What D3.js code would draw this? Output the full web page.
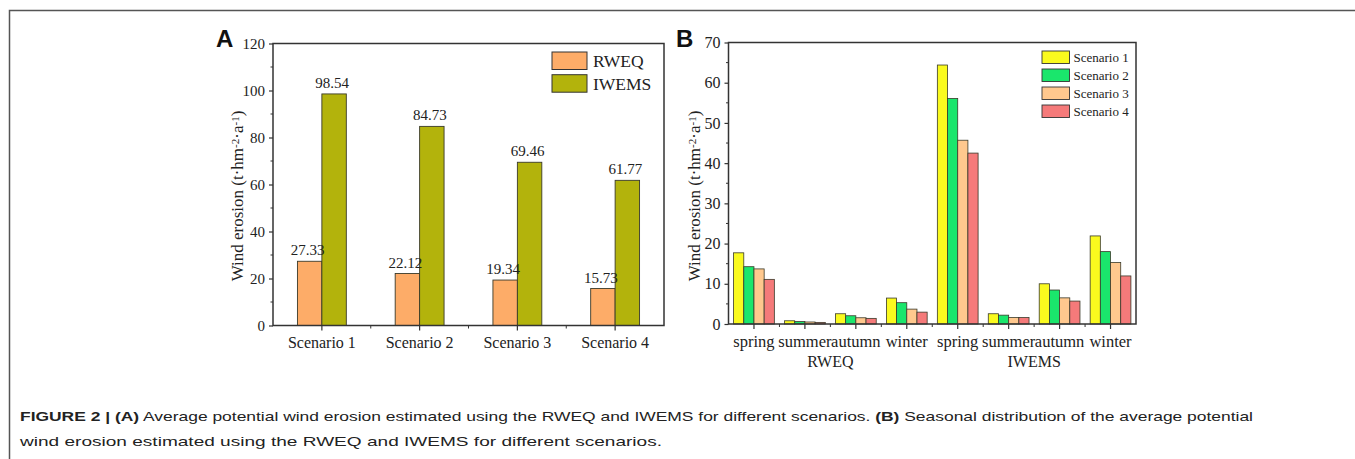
<!DOCTYPE html>
<html>
<head>
<meta charset="utf-8">
<script src="https://cdn.jsdelivr.net/npm/d3@7"></script>
<style>
  body { margin: 0; background: #fff; }
  svg { display: block; }
</style>
</head>
<body>
<div id="fig"></div>
<script>
// panel A data
const scenarios = ['Scenario 1', 'Scenario 2', 'Scenario 3', 'Scenario 4'];
const models = ['RWEQ', 'IWEMS'];
const rweqTotals = [27.33, 22.12, 19.34, 15.73];
const iwemsTotals = [98.54, 84.73, 69.46, 61.77];
const ticksA = [0, 20, 40, 60, 80, 100, 120];

// panel B data: RWEQ spring..winter, then IWEMS spring..winter
const seasons = ['spring', 'summer', 'autumn', 'winter'];
const scenario1 = [17.7, 0.8, 2.55, 6.45, 64.4, 2.55, 10.0, 21.9];
const scenario2 = [14.25, 0.6, 2.05, 5.3, 56.1, 2.2, 8.45, 18.0];
const scenario3 = [13.7, 0.5, 1.55, 3.7, 45.7, 1.6, 6.5, 15.3];
const scenario4 = [11.1, 0.4, 1.4, 2.95, 42.5, 1.6, 5.7, 11.95];
const ticksB = [0, 10, 20, 30, 40, 50, 60, 70];

const SERIF = '"Liberation Serif", "Times New Roman", serif';
const SANS = '"Liberation Sans", Arial, Helvetica, sans-serif';

const svg = d3.select('#fig')
    .append('svg')
    .attr('width', 1355)
    .attr('height', 459);

// outer figure border
svg.append('rect')
    .attr('x', 9.5).attr('y', 10.5)
    .attr('width', 1350).attr('height', 470)
    .attr('fill', 'none')
    .attr('stroke', '#555')
    .attr('stroke-width', 1.5);

function yTitle(g, x, y) {
    const t = g.append('text')
        .attr('transform', `translate(${x}, ${y}) rotate(-90)`)
        .attr('text-anchor', 'middle')
        .style('font-family', SERIF)
        .style('font-size', '17px')
        .attr('fill', '#222');
    t.append('tspan').text('Wind erosion (t·hm');
    t.append('tspan').attr('baseline-shift', '40%').style('font-size', '11px').text('-2');
    t.append('tspan').text('·a');
    t.append('tspan').attr('baseline-shift', '40%').style('font-size', '11px').text('-1');
    t.append('tspan').text(')');
}

function frameAndYAxis(yScale, ticks, box, labelSize) {
    const g = svg.append('g');
    const yAxis = d3.axisLeft(yScale)
        .tickValues(ticks)
        .tickSize(4)
        .tickPadding(4);
    g.append('g')
        .attr('transform', `translate(${box.left}, 0)`)
        .call(yAxis)
        .call(s => s.select('.domain').remove())
        .call(s => s.selectAll('line').attr('stroke', '#333').attr('stroke-width', 1.2))
        .call(s => s.selectAll('text')
            .style('font-family', SERIF)
            .style('font-size', labelSize)
            .attr('fill', '#222'));

    // minor ticks half way between the majors
    const minors = d3.pairs(ticks).map(p => (p[0] + p[1]) / 2);
    g.append('g')
        .selectAll('line')
        .data(minors)
        .enter()
        .append('line')
        .attr('x1', box.left - 2.5)
        .attr('x2', box.left)
        .attr('y1', d => yScale(d))
        .attr('y2', d => yScale(d))
        .attr('stroke', '#333')
        .attr('stroke-width', 1);

    return g;
}

function drawFrame(box) {
    svg.append('rect')
        .attr('x', box.left).attr('y', box.top)
        .attr('width', box.right - box.left)
        .attr('height', box.bottom - box.top)
        .attr('fill', 'none')
        .attr('stroke', '#333')
        .attr('stroke-width', 1.5);
}

// ---------- panel A ----------
const boxA = { left: 273, right: 664, top: 43.5, bottom: 325.5 };
const colorA = { RWEQ: '#fdac68', IWEMS: '#b3b30c' };

const xA = d3.scaleBand()
    .domain(scenarios)
    .range([boxA.left, boxA.right])
    .paddingInner(0.5)
    .paddingOuter(0.25);

const xAInner = d3.scaleBand()
    .domain(models)
    .range([0, xA.bandwidth()]);

const yA = d3.scaleLinear()
    .domain([0, 120])
    .range([boxA.bottom, boxA.top]);

const tableA = scenarios.map((s, i) => ({ name: s, RWEQ: rweqTotals[i], IWEMS: iwemsTotals[i] }));

const chartA = svg.append('g').classed('panel-a', true);

const groupsA = chartA.selectAll('.grp')
    .data(tableA)
    .enter()
    .append('g')
    .classed('grp', true)
    .attr('transform', d => `translate(${xA(d.name)}, 0)`);

groupsA.selectAll('rect')
    .data(d => models.map(m => ({ model: m, value: d[m] })))
    .enter()
    .append('rect')
    .attr('x', d => xAInner(d.model))
    .attr('y', d => yA(d.value))
    .attr('width', xAInner.bandwidth())
    .attr('height', d => yA(0) - yA(d.value))
    .attr('fill', d => colorA[d.model])
    .attr('stroke', '#3a3a2a')
    .attr('stroke-width', 0.9);

groupsA.selectAll('.val')
    .data(d => models.map(m => ({ model: m, value: d[m] })))
    .enter()
    .append('text')
    .classed('val', true)
    .attr('x', d => xAInner(d.model) + xAInner.bandwidth() / 2 - 2)
    .attr('y', d => yA(d.value) - 6)
    .attr('text-anchor', 'middle')
    .style('font-family', SERIF)
    .style('font-size', '15px')
    .attr('fill', '#222')
    .text(d => d.value.toFixed(2));

frameAndYAxis(yA, ticksA, boxA, '15px');
drawFrame(boxA);

const xAxisA = d3.axisBottom(xA).tickSize(5).tickPadding(6);
chartA.append('g')
    .attr('transform', `translate(0, ${boxA.bottom})`)
    .call(xAxisA)
    .call(s => s.select('.domain').remove())
    .call(s => s.selectAll('line').attr('stroke', '#333').attr('stroke-width', 1.2))
    .call(s => s.selectAll('text')
        .style('font-family', SERIF)
        .style('font-size', '16px')
        .attr('fill', '#222'));

// minor x ticks between groups
chartA.append('g')
    .selectAll('line')
    .data(scenarios.slice(1))
    .enter()
    .append('line')
    .attr('x1', d => xA(d) - xA.step() * 0.25)
    .attr('x2', d => xA(d) - xA.step() * 0.25)
    .attr('y1', boxA.bottom)
    .attr('y2', boxA.bottom + 3)
    .attr('stroke', '#333');

yTitle(chartA, 243, 196);

chartA.append('text')
    .attr('x', 216).attr('y', 47)
    .style('font-family', SANS)
    .style('font-weight', 'bold')
    .style('font-size', '24px')
    .attr('fill', '#111')
    .text('A');

// legend A
const legA = chartA.append('g').attr('transform', 'translate(552, 52)');
legA.selectAll('g')
    .data(models)
    .enter()
    .append('g')
    .attr('transform', (d, i) => `translate(0, ${i * 22.7})`)
    .call(g => g.append('rect')
        .attr('width', 35).attr('height', 17.5)
        .attr('fill', d => colorA[d])
        .attr('stroke', '#333').attr('stroke-width', 1))
    .call(g => g.append('text')
        .attr('x', 41).attr('y', 15)
        .style('font-family', SERIF)
        .style('font-size', '17.5px')
        .attr('fill', '#222')
        .text(d => d));

// ---------- panel B ----------
const boxB = { left: 728.5, right: 1136, top: 42.5, bottom: 324 };
const seriesB = ['Scenario 1', 'Scenario 2', 'Scenario 3', 'Scenario 4'];
const colorB = ['#fafa1e', '#1ae66c', '#ffc88e', '#f57a7a'];
const valuesB = [scenario1, scenario2, scenario3, scenario4];
const groupsB = models.flatMap(m => seasons.map(s => `${m}-${s}`));

const xB = d3.scaleBand()
    .domain(groupsB)
    .range([boxB.left, boxB.right])
    .paddingInner(0.2)
    .paddingOuter(0.1);

const xBInner = d3.scaleBand()
    .domain(seriesB)
    .range([0, xB.bandwidth()]);

const yB = d3.scaleLinear()
    .domain([0, 70])
    .range([boxB.bottom, boxB.top]);

const chartB = svg.append('g').classed('panel-b', true);

chartB.selectAll('.grp')
    .data(groupsB)
    .enter()
    .append('g')
    .classed('grp', true)
    .attr('transform', d => `translate(${xB(d)}, 0)`)
    .selectAll('rect')
    .data((d, gi) => seriesB.map((s, si) => ({ s, si, value: valuesB[si][gi] })))
    .enter()
    .append('rect')
    .attr('x', d => xBInner(d.s))
    .attr('y', d => yB(d.value))
    .attr('width', xBInner.bandwidth())
    .attr('height', d => yB(0) - yB(d.value))
    .attr('fill', d => colorB[d.si])
    .attr('stroke', '#3a3a2a')
    .attr('stroke-width', 0.8);

frameAndYAxis(yB, ticksB, boxB, '16px');
drawFrame(boxB);

const xAxisB = d3.axisBottom(xB)
    .tickSize(5)
    .tickPadding(6)
    .tickFormat(d => d.split('-')[1]);

chartB.append('g')
    .attr('transform', `translate(0, ${boxB.bottom})`)
    .call(xAxisB)
    .call(s => s.select('.domain').remove())
    .call(s => s.selectAll('line').attr('stroke', '#333').attr('stroke-width', 1.2))
    .call(s => s.selectAll('text')
        .style('font-family', SERIF)
        .style('font-size', '16.5px')
        .attr('fill', '#222'));

chartB.append('g')
    .selectAll('line')
    .data(groupsB.slice(1))
    .enter()
    .append('line')
    .attr('x1', d => xB(d) - xB.step() * 0.1)
    .attr('x2', d => xB(d) - xB.step() * 0.1)
    .attr('y1', boxB.bottom)
    .attr('y2', boxB.bottom + 3)
    .attr('stroke', '#333');

// model names under the season groups
chartB.selectAll('.model')
    .data(models)
    .enter()
    .append('text')
    .classed('model', true)
    .attr('x', m => (xB(`${m}-spring`) + xB(`${m}-winter`) + xB.bandwidth()) / 2)
    .attr('y', 367)
    .attr('text-anchor', 'middle')
    .style('font-family', SERIF)
    .style('font-size', '16px')
    .attr('fill', '#222')
    .text(m => m);

yTitle(chartB, 700, 196);

chartB.append('text')
    .attr('x', 676).attr('y', 47)
    .style('font-family', SANS)
    .style('font-weight', 'bold')
    .style('font-size', '24px')
    .attr('fill', '#111')
    .text('B');

// legend B
const legB = chartB.append('g').attr('transform', 'translate(1042, 51)');
legB.selectAll('g')
    .data(seriesB)
    .enter()
    .append('g')
    .attr('transform', (d, i) => `translate(0, ${i * 18})`)
    .call(g => g.append('rect')
        .attr('width', 27.5).attr('height', 12.5)
        .attr('fill', (d, i) => colorB[i])
        .attr('stroke', '#333').attr('stroke-width', 0.9))
    .call(g => g.append('text')
        .attr('x', 31.5).attr('y', 10.5)
        .style('font-family', SERIF)
        .style('font-size', '13px')
        .attr('fill', '#222')
        .text(d => d));

// ---------- caption ----------
const cap = svg.append('g')
    .style('font-family', SANS)
    .style('font-size', '13.5px')
    .attr('fill', '#222');

const line1 = cap.append('text')
    .attr('x', 20).attr('y', 421)
    .attr('textLength', 1233)
    .attr('lengthAdjust', 'spacingAndGlyphs');
line1.append('tspan').style('font-weight', 'bold').text('FIGURE 2 | (A)');
line1.append('tspan').text(' Average potential wind erosion estimated using the RWEQ and IWEMS for different scenarios. ');
line1.append('tspan').style('font-weight', 'bold').text('(B)');
line1.append('tspan').text(' Seasonal distribution of the average potential');

cap.append('text')
    .attr('x', 20).attr('y', 446)
    .attr('textLength', 642)
    .attr('lengthAdjust', 'spacingAndGlyphs')
    .text('wind erosion estimated using the RWEQ and IWEMS for different scenarios.');
</script>
</body>
</html>
